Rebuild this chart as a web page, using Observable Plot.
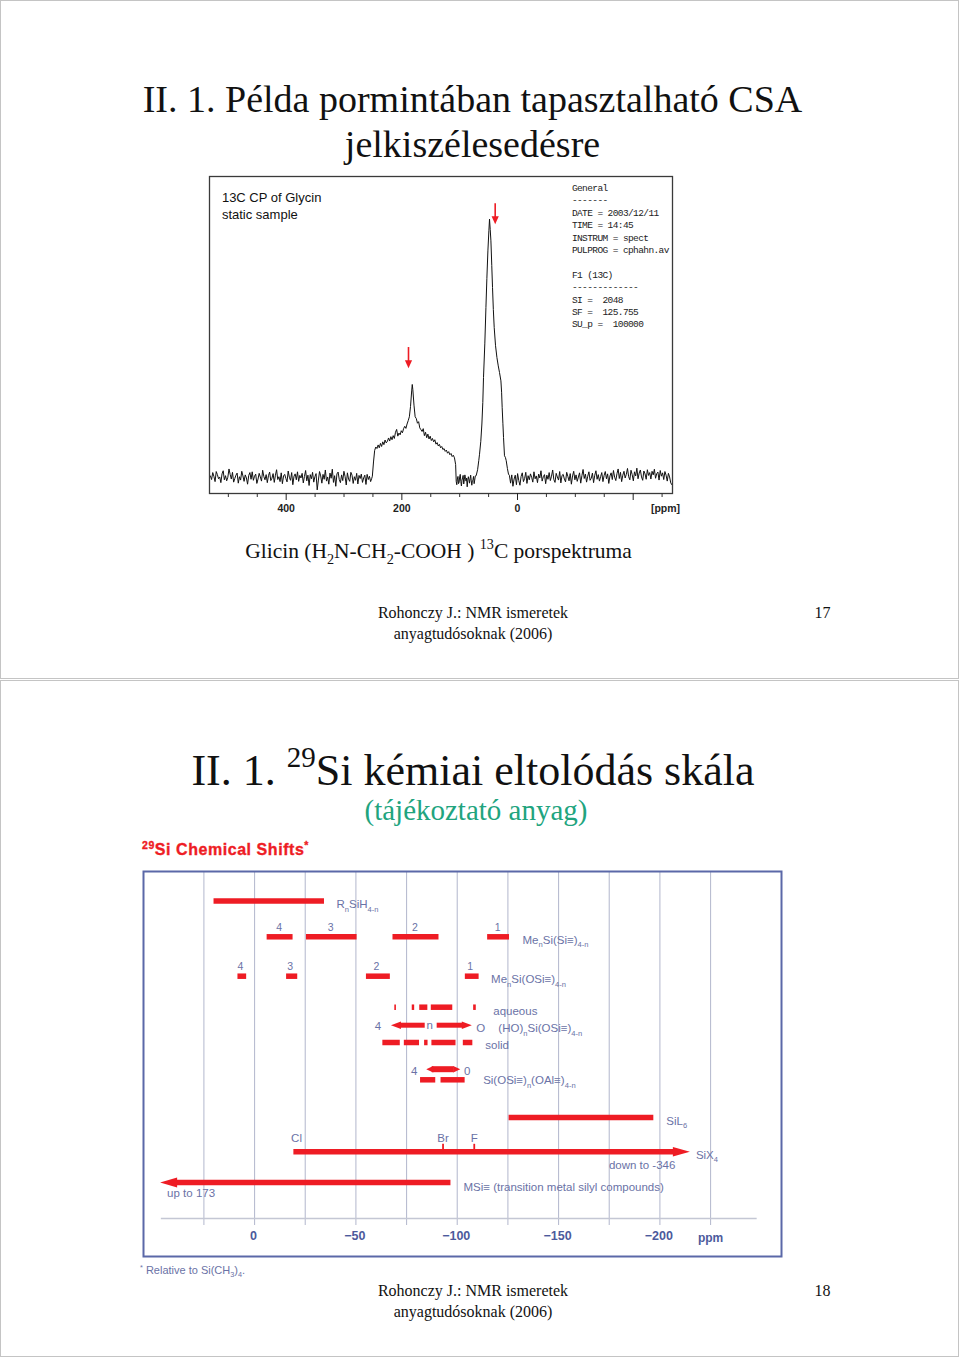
<!DOCTYPE html>
<html><head><meta charset="utf-8">
<script src="https://cdn.jsdelivr.net/npm/d3@7"></script>
<script src="https://cdn.jsdelivr.net/npm/@observablehq/plot@0.6"></script>
<style>
html,body{margin:0;padding:0;background:#fff;}
#page{position:relative;width:960px;height:1358px;overflow:hidden;background:#fff;}
.holder{position:absolute;}
</style></head><body><div id="page"></div>
<script>
// ================= DATA: 13C CP spectrum of glycine =================
// baseline noise, 531 -> 252 ppm (evenly spaced readings)
const noiseLeft = [
0.6,-0.8,1.9,0.4,-1.6,2.3,1.1,-0.5,0.2,-2.0,
1.4,2.6,-0.9,0.7,-1.3,0.1,3.3,1.2,-0.6,2.0,
-1.8,-0.4,0.9,1.7,-2.2,0.3,-1.0,2.4,0.6,-1.5,
1.0,-0.2,-2.6,0.8,1.9,-0.7,2.2,-1.1,0.5,1.3,
-2.3,-0.6,1.6,0.2,-1.4,2.8,0.4,-0.9,1.1,-2.0,
0.7,2.1,-1.2,-0.3,1.5,-1.9,0.9,3.0,-0.8,0.3,
-1.6,1.8,-2.4,0.6,1.2,-0.4,-1.7,2.5,0.1,-1.1,
1.9,-2.8,0.5,1.4,-0.9,2.2,-1.5,0.8,-0.2,1.6,
-2.1,0.4,2.7,-1.3,0.9,-3.1,1.1,-0.5,2.0,-1.8,
0.3,1.5,-4.8,-1.0,2.3,0.6,-2.2,1.2,-0.7,2.9,
-1.4,0.2,-2.6,1.7,-0.3,3.2,-1.9,0.7,-3.4,1.4,
2.1,-0.8,-2.0,1.0,-1.2,2.4,0.4,-2.9,1.8,-0.6,
-1.5,2.0,0.9,-2.3,0.3,-1.1,1.6,-2.5,0.8,-0.4,
1.3,-1.9,-0.2,0.9,-2.7,1.2,-0.8,0.5,-1.6,-0.3];
// COOH powder pattern [ppm, intensity]
const broadBand = [[251,0.5],[249,6],[247,10.5],[245,11.8],[243,11.2],[241,12.6],[239,11.5],[237,13.2],[235,12.0],[233,13.8],[231,12.7],[229,14.5],[227,13.4],[225,14.0],[223,15.3],[221,14.1],[219,15.8],[217,14.6],[215,16.2],[213,15.1],[211,17.5],[209,18.6],[207,16.0],[205,17.2],[203,16.5],[201,18.1],[199,17.3],[197,18.9],[195,19.8],[193,19.0],[191,20.7],[189,22.0],[187,23.5],[185,27.5],[183,33.5],[182,36],[181,34],[179,28.0],[177,23.5],[175,22.8],[173,21.0],[171,21.6],[169,19.2],[167,18.5],[165,17.8],[163,18.9],[161,16.2],[159,17.5],[157,15.4],[155,16.8],[153,14.9],[151,16.0],[149,14.3],[147,15.1],[145,13.8],[143,14.6],[141,12.9],[139,13.5],[137,12.2],[135,12.8],[133,11.5],[131,12.0],[129,10.8],[127,11.2],[125,10.1],[123,10.6],[121,9.4],[119,10.0],[117,8.8],[115,9.3],[113,8.1],[111,8.6],[109,7.6],[107,5],[106,-1.5]];
// baseline between the two signals [ppm, intensity]
const dipNoise = [[105,-2.8],[104,-0.6],[103,0.4],[102,-2.4],[101,-1.9],[100,0.2],[99,1.2],[98,-1.5],[97,-3.3],[96,-1.0],[95,-0.2],[94,0.8],[93,-2.5],[92,-0.9],[91,1.0],[90,-0.3],[89,-1.4],[88,-0.2],[87,-3.6],[86,-1.1],[85,0.3],[84,-0.8],[83,-2.2],[82,-0.5],[81,0.9],[80,-1.3],[79,-3.0],[78,-1.2],[77,-0.8],[76,0.4],[75,-2.4],[74,-1.0],[73,0.6]];
// CH2 signal [ppm, intensity]
const sharpPeak = [[71.5,0.7],[69,3],[67,6.5],[65.7,9],[63.5,14],[61.6,20.7],[60,29],[58.8,38.7],[56.5,52],[54.6,65.8],[53,77],[51.2,87.7],[49.5,95.5],[48.4,100],[47.2,96],[46,91.6],[44.5,82],[43.2,73.5],[41.8,65],[40.3,58],[38,51],[35.6,46.4],[33.3,43.2],[31.1,40.6],[28.7,37.4],[27.5,33],[26.5,27],[25.3,21],[24.2,15.5],[22.5,8.4],[21,7.8],[19.5,6.5],[17.5,3.5],[15.6,1.3]];
// baseline noise, 14 -> -267 ppm (evenly spaced readings)
const noiseRight = [
0.8,-2.2,1.0,-3.4,-0.6,0.9,-2.8,1.5,-1.2,-3.0,
0.4,1.8,-1.6,-0.4,2.0,-2.3,0.7,-0.9,1.4,0.1,
-1.8,2.2,-0.5,0.6,-2.0,1.3,-0.2,2.6,-1.4,0.3,
1.1,-2.4,0.9,-0.7,1.9,-1.2,0.5,2.9,-0.8,-1.9,
1.6,0.2,-1.0,2.3,-2.1,0.8,1.2,-0.6,-1.7,2.0,
0.4,-1.3,1.5,-2.6,0.6,2.4,-0.9,1.0,-1.5,0.2,
1.8,-2.2,0.7,3.1,-0.4,1.3,-1.8,0.5,2.2,-1.1,
-0.3,1.7,-2.0,0.9,2.6,-0.7,1.1,-1.4,0.3,1.9,
-1.6,0.8,2.3,-0.5,1.4,-2.3,0.6,1.8,-0.8,2.7,
0.1,-1.2,1.5,3.3,-0.4,2.0,-1.6,0.9,2.4,-0.2,
1.2,3.5,0.3,-0.9,2.8,1.1,-1.3,2.2,0.6,3.6,
-0.5,1.7,2.9,0.2,-1.1,2.5,1.4,-0.7,3.0,0.8,
1.9,-0.6,2.4,1.0,3.2,-0.3,1.5,2.1,-1.0,2.7,
0.5,1.8,-0.8,2.3,0.9,-1.4,1.6,0.2,-2.1,-2.8];
const specMajorTicks = [400, 200, 0, -200];
const specMinorTicks = [500, 450, 350, 300, 250, 150, 100, 50, -50, -100, -150, -250];
const specArrows = [{ppm: 188.5, from: 50.3, to: 42.3}, {ppm: 38.6, from: 106, to: 98}];
const specTitle = ["13C CP of Glycin", "static sample"];
const specParams = ["General", "-------", "DATE = 2003/12/11", "TIME = 14:45", "INSTRUM = spect", "PULPROG = cphahn.av", "", "F1 (13C)", "-------------", "SI =  2048", "SF =  125.755", "SU_p =  100000"];

// ================= DATA: 29Si chemical shift scale =================
const siGridTicks = [25, 0, -25, -50, -75, -100, -125, -150, -175, -200, -225];
const siTickLabels = [0, -50, -100, -150, -200];
const rnSiH = [{from: 20, to: -34.5}];
const meSiSi = [{n: "4", from: -6.2, to: -19}, {n: "3", from: -25.6, to: -50.6}, {n: "2", from: -68.3, to: -91}, {n: "1", from: -115, to: -125.8}];
const meSiOSi = [{n: "4", from: 8.2, to: 3.9}, {n: "3", from: -15.8, to: -21.3}, {n: "2", from: -55.2, to: -67}, {n: "1", from: -104, to: -110.8}];
const aqueousBars = [{from: -69.2, to: -70}, {from: -77.8, to: -79}, {from: -81.5, to: -85.5}, {from: -87.2, to: -97.8}, {from: -108.1, to: -109.4}];
const solidBars = [{from: -63.3, to: -71.9}, {from: -73.9, to: -81.4}, {from: -83.9, to: -85.6}, {from: -87.5, to: -99.4}, {from: -103, to: -107.7}];
const hoArrows = [{from: -84.2, to: -67.3}, {from: -90.1, to: -107.2}];
const alArrow = {from: -84.7, to: -101.5};
const alBars = [{from: -81.9, to: -89.4}, {from: -92, to: -103.9}];
const siL6 = {from: -125.6, to: -197};
const siX4 = {from: -19.4, to: -214.8};
const halogens = [{name: "Cl", ppm: -20.7, tick: false}, {name: "Br", ppm: -93, tick: true}, {name: "F", ppm: -108.4, tick: true}];
const mSi = {from: -96.9, to: 46.6};

// ================= helpers =================
const NS = "http://www.w3.org/2000/svg";
const RED = "#ee1c24";
const INK = "#6a72a6";
function rich(t, str, F, baseDy = 0) {
  const parts = str.split(/([_^]\{[^}]*\})/).filter(s => s.length);
  let shift = 0, first = true;
  for (const p of parts) {
    let target = 0, content = p, small = false;
    if (p.startsWith("_{")) { target = 0.3 * F; content = p.slice(2, -1); small = true; }
    else if (p.startsWith("^{")) { target = -0.4 * F; content = p.slice(2, -1); small = true; }
    const ts = document.createElementNS(NS, "tspan");
    const d = target - shift + (first ? baseDy : 0);
    if (d !== 0 || !first) ts.setAttribute("dy", d);
    if (small) ts.setAttribute("font-size", (0.66 * F).toFixed(2));
    ts.textContent = content;
    t.appendChild(ts);
    shift = target; first = false;
  }
}
function richify(svg) {
  for (const t of svg.querySelectorAll("text")) {
    const s = t.textContent;
    if (!/[_^]\{/.test(s) || t.querySelector("tspan")) continue;
    const F = parseFloat(getComputedStyle(t).fontSize);
    const dyAttr = t.getAttribute("dy");
    let base = 0;
    if (dyAttr) base = dyAttr.endsWith("em") ? parseFloat(dyAttr) * F : parseFloat(dyAttr);
    t.textContent = "";
    rich(t, s, F, base);
  }
}
function place(node, left, top) {
  const d = document.createElement("div");
  d.className = "holder"; d.style.left = left + "px"; d.style.top = top + "px";
  d.appendChild(node); document.getElementById("page").appendChild(d);
}
// custom arrowhead symbols (tip at origin)
const headH = (L, H, dir) => ({draw(ctx) { ctx.moveTo(0, 0); ctx.lineTo(-dir * L, -H / 2); ctx.lineTo(-dir * L, H / 2); ctx.closePath(); }});
const headDown = {draw(ctx) { ctx.moveTo(0, 0); ctx.lineTo(-3.6, -8); ctx.lineTo(3.6, -8); ctx.closePath(); }};

// ================= page text (slides) =================
const page = d3.select("#page").append("svg").attr("width", 960).attr("height", 1358)
  .style("position", "absolute").style("left", 0).style("top", 0);
page.append("rect").attr("x", 0.5).attr("y", 0.5).attr("width", 958).attr("height", 678).attr("fill", "none").attr("stroke", "#c4c4c4");
page.append("rect").attr("x", 0.5).attr("y", 680.5).attr("width", 958).attr("height", 676).attr("fill", "none").attr("stroke", "#c4c4c4");
const pageTexts = [
  {s: "II. 1. Példa pormintában tapasztalható CSA", x: 472.5, y: 112, F: 38},
  {s: "jelkiszélesedésre", x: 472.5, y: 157, F: 38},
  {s: "Glicin (H_{2}N-CH_{2}-COOH ) ^{13}C porspektruma", x: 438.5, y: 558, F: 21.5},
  {s: "Rohonczy J.: NMR ismeretek", x: 473, y: 618, F: 16},
  {s: "anyagtudósoknak (2006)", x: 473, y: 639, F: 16},
  {s: "17", x: 822.5, y: 618, F: 16},
  {s: "II. 1. ^{29}Si kémiai eltolódás skála", x: 473, y: 784.5, F: 44},
  {s: "(tájékoztató anyag)", x: 476, y: 820, F: 29, fill: "#21a47e"},
  {s: "Rohonczy J.: NMR ismeretek", x: 473, y: 1296, F: 16},
  {s: "anyagtudósoknak (2006)", x: 473, y: 1317, F: 16},
  {s: "18", x: 822.5, y: 1296, F: 16},
  {s: "^{29}Si Chemical Shifts^{*}", x: 142, y: 855, F: 16, fill: RED, family: "Liberation Sans", weight: "bold", anchor: "start", ls: 0.55, sw: 0.35},
  {s: "^{*} Relative to Si(CH_{3})_{4}.", x: 140, y: 1274, F: 11, fill: INK, family: "Liberation Sans", anchor: "start"}
];
for (const d of pageTexts) {
  const t = page.append("text").attr("x", d.x).attr("y", d.y)
    .attr("font-family", d.family || "'Liberation Serif', 'Times New Roman', serif")
    .attr("font-size", d.F).attr("fill", d.fill || "#111")
    .attr("font-weight", d.weight || "normal")
    .attr("letter-spacing", d.ls || 0)
    .attr("stroke", d.sw ? d.fill : "none").attr("stroke-width", d.sw || 0)
    .attr("text-anchor", d.anchor || "middle").node();
  rich(t, d.s, d.F);
}

// ================= Chart 1: spectrum =================
const specData = [
  ...noiseLeft.map((v, i) => ({ppm: 531 - i * (531 - 252) / (noiseLeft.length - 1), v})),
  ...broadBand.map(([ppm, v]) => ({ppm, v})),
  ...dipNoise.map(([ppm, v]) => ({ppm, v})),
  ...sharpPeak.map(([ppm, v]) => ({ppm, v})),
  ...noiseRight.map((v, i) => ({ppm: 14 - i * (14 + 267) / (noiseRight.length - 1), v}))
];
const spec = Plot.plot({
  width: 483, height: 357,
  marginLeft: 10, marginRight: 10, marginTop: 10, marginBottom: 30,
  x: {domain: [532.6, -268], axis: null, label: null},
  y: {domain: [-6.2, 116.5], axis: null, label: null},
  style: {background: "transparent", fontFamily: "'Liberation Sans', Arial, sans-serif", overflow: "visible"},
  marks: [
    Plot.line(specData, {x: "ppm", y: "v", stroke: "#111", strokeWidth: 1}),
    Plot.frame({stroke: "#3a3a3a", strokeWidth: 1.3}),
    Plot.axisX(specMinorTicks, {tickSize: 4, tickFormat: () => "", label: null, color: "#333"}),
    Plot.axisX(specMajorTicks, {tickSize: 7, tickPadding: 4.5, label: null, color: "#222",
      tickFormat: d => d === -200 ? "" : String(d), fontWeight: "bold", fontSize: 10.5}),
    Plot.text(["[ppm]"], {frameAnchor: "bottom-right", dx: -7, dy: 15.5, lineAnchor: "middle", textAnchor: "middle", fontWeight: "bold", fontSize: 10.5, fill: "#222"}),
    Plot.ruleX(specArrows, {x: "ppm", y1: "from", y2: d => d.to + 2.4, stroke: RED, strokeWidth: 1.6}),
    Plot.dot(specArrows, {x: "ppm", y: "to", symbol: headDown, r: 4, fill: RED, stroke: "none"}),
    Plot.text([specTitle.join("\n")], {frameAnchor: "top-left", dx: 12.4, dy: 14, lineAnchor: "top", textAnchor: "start", fontSize: 13, lineHeight: 1.29, fill: "#111"}),
    Plot.text([specParams.join("\n")], {frameAnchor: "top-left", dx: 362.4, dy: 5.8, lineAnchor: "top", textAnchor: "start", fontSize: 9.5, lineHeight: 1.305, fill: "#222", fontFamily: "'Liberation Mono', 'DejaVu Sans Mono', monospace"})
  ]
});
place(spec, 199.3, 165.7);
// tighten the monospace parameter block to the width of the original printout
spec.querySelectorAll("g[font-family*='Mono']").forEach(g => g.setAttribute("letter-spacing", "-0.6"));

// ================= Chart 2: 29Si chemical shifts =================
const xDomain = [54.8, -260];
const frameW = 638;
const ppmPerPx = (xDomain[0] - xDomain[1]) / frameW;
// vertical layout of rows (px from the top of the frame)
const rowY = {RnSiH: 29.5, MeSiSi: 65.3, MeSiOSi: 104.7, aqueous: 135.7, HO: 153.7, solid: 171, AlArrow: 197.7, AlBars: 208.3, SiL6: 246, SiX4: 280.3, MSi: 311, gridEnd: 354, axisLine: 347, tickLabel: 364.7};
const BAR = 5.5;
const bars = [
  ...rnSiH.map(d => ({...d, row: "RnSiH"})),
  ...meSiSi.map(d => ({...d, row: "MeSiSi"})),
  ...meSiOSi.map(d => ({...d, row: "MeSiOSi"})),
  ...aqueousBars.map(d => ({...d, row: "aqueous"})),
  ...solidBars.map(d => ({...d, row: "solid"})),
  ...alBars.map(d => ({...d, row: "AlBars"})),
  {...siL6, row: "SiL6"}
];
// arrow shafts end where the head begins
const shaft = (a, L) => ({from: a.from, to: a.to + Math.sign(a.from - a.to) * (L - 1) * ppmPerPx});
const arrowSpecs = [
  {a: siX4, row: "SiX4", L: 17, H: 9.5, w: 5.5},
  {a: mSi, row: "MSi", L: 17, H: 10, w: 5.5},
  {a: hoArrows[0], row: "HO", L: 10, H: 7.5, w: 5},
  {a: hoArrows[1], row: "HO", L: 10, H: 7.5, w: 5}
];
const heads = [];
const shafts = [];
for (const s of arrowSpecs) {
  const dir = s.a.to < s.a.from ? 1 : -1; // +1 = towards right (lower ppm)
  heads.push({x: s.a.to, row: s.row, sym: headH(s.L, s.H, dir)});
  shafts.push({...shaft(s.a, s.L), row: s.row, w: s.w});
}
// double-headed Al arrow
heads.push({x: alArrow.from, row: "AlArrow", sym: headH(7, 6.5, -1)});
heads.push({x: alArrow.to, row: "AlArrow", sym: headH(7, 6.5, 1)});
shafts.push({from: alArrow.from - 6 * ppmPerPx, to: alArrow.to + 6 * ppmPerPx, row: "AlArrow", w: 6});

const labels = [
  {s: "R_{n}SiH_{4-n}", x: rnSiH[0].to, row: "RnSiH", dx: 12, dy: 3.5, a: "start"},
  ...meSiSi.map(d => ({s: d.n, x: (d.from + d.to) / 2, row: "MeSiSi", dx: -1, dy: -9.5, a: "middle", F: 10.5})),
  {s: "Me_{n}Si(Si≡)_{4-n}", x: meSiSi[3].to, row: "MeSiSi", dx: 13, dy: 3.5, a: "start"},
  ...meSiOSi.map(d => ({s: d.n, x: (d.from + d.to) / 2, row: "MeSiOSi", dx: -2, dy: -9.5, a: "middle", F: 10.5})),
  {s: "Me_{n}Si(OSi≡)_{4-n}", x: meSiOSi[3].to, row: "MeSiOSi", dx: 12, dy: 3.3, a: "start"},
  {s: "aqueous", x: aqueousBars[4].to, row: "aqueous", dx: 17, dy: 4, a: "start"},
  {s: "4", x: hoArrows[0].to, row: "HO", dx: -13, dy: 1.5, a: "middle"},
  {s: "n", x: (hoArrows[0].from + hoArrows[1].from) / 2, row: "HO", dx: -1.5, dy: 0, a: "middle"},
  {s: "O", x: hoArrows[1].to, row: "HO", dx: 9, dy: 3, a: "middle"},
  {s: "(HO)_{n}Si(OSi≡)_{4-n}", x: hoArrows[1].to, row: "HO", dx: 26.5, dy: 3.6, a: "start"},
  {s: "solid", x: solidBars[4].to, row: "solid", dx: 12.5, dy: 3.3, a: "start"},
  {s: "4", x: alArrow.from, row: "AlArrow", dx: -12, dy: 2, a: "middle"},
  {s: "0", x: alArrow.to, row: "AlArrow", dx: 7, dy: 2, a: "middle"},
  {s: "Si(OSi≡)_{n}(OAl≡)_{4-n}", x: alBars[1].to, row: "AlBars", dx: 18, dy: 1, a: "start"},
  {s: "SiL_{6}", x: siL6.to, row: "SiL6", dx: 12.5, dy: 3.5, a: "start"},
  ...halogens.map(h => ({s: h.name, x: h.ppm, row: "SiX4", dx: 0, dy: -13.8, a: "middle"})),
  {s: "SiX_{4}", x: siX4.to, row: "SiX4", dx: 6, dy: 3.5, a: "start"},
  {s: "down to -346", x: siX4.to, row: "SiX4", dx: -14.5, dy: 13.7, a: "end"},
  {s: "MSi≡ (transition metal silyl compounds)", x: mSi.from, row: "MSi", dx: 12.5, dy: 4.5, a: "start"},
  {s: "up to 173", x: mSi.to, row: "MSi", dx: 7, dy: 10.7, a: "start"}
];
const tickFmt = d => d === 0 ? "0" : "\u2212" + Math.abs(d);

const si = Plot.plot({
  width: 658, height: 405, margin: 10,
  x: {domain: xDomain, axis: null, label: null},
  y: {domain: [0, 385], range: [10, 395], axis: null, label: null},
  style: {background: "transparent", fontFamily: "'Liberation Sans', Arial, sans-serif", overflow: "visible"},
  marks: [
    Plot.ruleX(siGridTicks, {x: d => d, y1: 0, y2: rowY.gridEnd, stroke: "#b9bdd1", strokeWidth: 1.1}),
    Plot.ruleY([rowY.axisLine], {y: d => d, x1: 46, x2: -248, stroke: "#c4c7d4", strokeWidth: 1.5}),
    Plot.frame({stroke: "#5b68a8", strokeWidth: 2}),
    Plot.ruleY(bars, {y: d => rowY[d.row], x1: "from", x2: "to", stroke: RED, strokeWidth: BAR}),
    Plot.ruleY(shafts, {y: d => rowY[d.row], x1: "from", x2: "to", stroke: RED, strokeWidth: d => d.w}),
    ...heads.map(h => Plot.dot([h], {x: "x", y: d => rowY[d.row], symbol: h.sym, r: 5, fill: RED, stroke: "none"})),
    Plot.ruleX(halogens.filter(h => h.tick), {x: "ppm", y1: rowY.SiX4 - 7.5, y2: rowY.SiX4, stroke: RED, strokeWidth: 1.8}),
    ...labels.map(l => Plot.text([l], {x: "x", y: d => rowY[d.row], text: "s", dx: l.dx, dy: l.dy, textAnchor: l.a, lineAnchor: "middle", fontSize: l.F || 11.5, fill: INK})),
    Plot.text(siTickLabels, {x: d => d, y: () => rowY.tickLabel, text: tickFmt, dx: -1, lineAnchor: "middle", fontSize: 12.5, fontWeight: "bold", fill: "#4c5a9c"}),
    Plot.text(["ppm"], {x: () => -225, y: () => rowY.tickLabel + 1.5, text: d => d, lineAnchor: "middle", fontSize: 12, fontWeight: "bold", fill: "#4c5a9c"})
  ]
});
place(si, 133, 861);
richify(si);
richify(spec);
</script></body></html>
